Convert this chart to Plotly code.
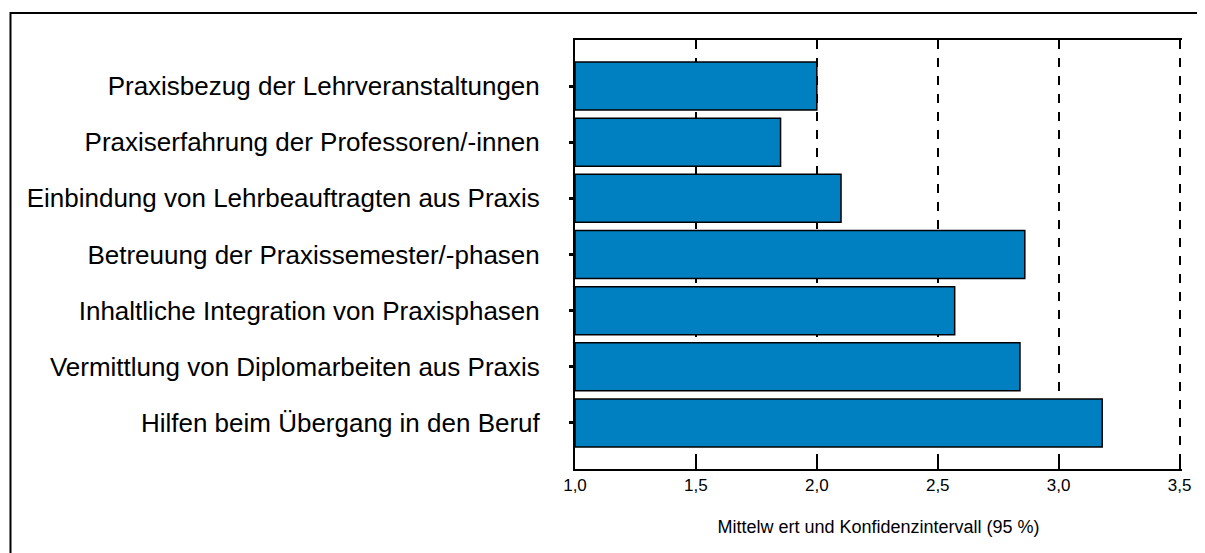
import plotly.graph_objects as go

categories = [
    "Praxisbezug der Lehrveranstaltungen",
    "Praxiserfahrung der Professoren/-innen",
    "Einbindung von Lehrbeauftragten aus Praxis",
    "Betreuung der Praxissemester/-phasen",
    "Inhaltliche Integration von Praxisphasen",
    "Vermittlung von Diplomarbeiten aus Praxis",
    "Hilfen beim Übergang in den Beruf",
]
means = [2.00, 1.85, 2.10, 2.86, 2.57, 2.84, 3.18]
x_ticks = [1.0, 1.5, 2.0, 2.5, 3.0, 3.5]

fig = go.Figure()
fig.add_trace(go.Bar(
    y=categories, x=[m - 1.0 for m in means], base=1.0, orientation="h",
    width=0.855,
    marker=dict(color="#0080C0", line=dict(color="black", width=1.5)),
))

# page body has an 8px margin, so the figure is a bit smaller than the window
fig.update_layout(
    width=1197, height=545,
    margin=dict(l=567, r=23, t=32, b=84),
    paper_bgcolor="white", plot_bgcolor="white",
    font=dict(family="Liberation Sans, Arial, sans-serif", color="black"),
    separators=",.",
    showlegend=False,
)
fig.update_xaxes(
    range=[1.0, 3.51], tickvals=x_ticks, tickformat=".1f",
    showgrid=True, gridcolor="black", gridwidth=1.5, griddash="dash",
    showline=True, linecolor="black", linewidth=2, mirror=True,
    ticks="inside", ticklen=13, tickwidth=2, tickcolor="black",
    tickfont=dict(size=17),
    title=dict(text="Mittelw ert und Konfidenzintervall (95 %)",
               font=dict(size=18), standoff=26),
    zeroline=False,
)
fig.update_yaxes(
    range=[6.82, -0.82],
    showline=True, linecolor="black", linewidth=2,
    ticks="outside", ticklen=4, tickwidth=3, tickcolor="black",
    tickfont=dict(size=26), ticklabelstandoff=24,
    showgrid=False,
)

# outer frame: left and top edges visible, right/bottom run off the page
fig.add_shape(type="rect", xref="paper", yref="paper",
              x0=-0.930, x1=1.1, y0=-0.3, y1=1.063,
              line=dict(color="black", width=2), layer="below")

fig.write_html("out.html")
